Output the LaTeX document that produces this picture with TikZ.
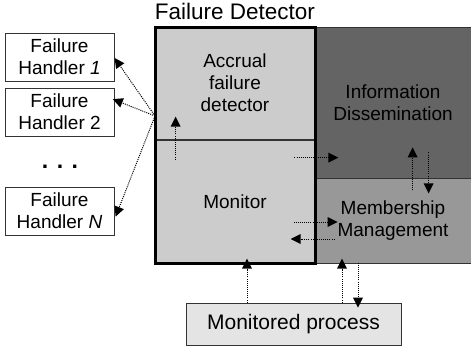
\documentclass[tikz,border=0pt]{standalone}
\usepackage{fontspec}
\setmainfont{Liberation Sans}
\usetikzlibrary{arrows.meta,decorations.markings}
\definecolor{lightreg}{HTML}{CCCCCC}
\definecolor{darkreg}{HTML}{646464}
\definecolor{midreg}{HTML}{989898}
\definecolor{procfill}{HTML}{E4E4E4}
\begin{document}
\begin{tikzpicture}[x=1pt,y=-1pt,
  txt/.style={font=\fontsize{19}{22}\selectfont, align=center, inner sep=0pt},
  handler/.style={txt, draw=black!80, fill=white, line width=0.8pt, minimum width=109pt, minimum height=48pt},
  region/.style={txt, draw=black!80, line width=0.8pt},
  arr/.style={dash pattern=on 1pt off 1.1pt, line width=1pt, shorten >=5pt,
    postaction={draw=none, decorate, decoration={markings,
      mark=at position 1 with {\fill[black] (5pt,0) -- (-5pt,5pt) -- (-5pt,-5pt) -- cycle;}}}}
]
\useasboundingbox (0,0) rectangle (471,353);

% regions
\node[region, fill=darkreg, minimum width=156pt, minimum height=151pt] (info) at (393,102.5) {Information\\Dissemination};
\node[region, fill=midreg, minimum width=156pt, minimum height=85pt] (memb) at (393,220.5) {Membership\\Management};
\node[region, fill=lightreg, minimum width=160pt, minimum height=112pt] (accrual) at (235,83) {Accrual\\failure\\detector};
\node[region, fill=lightreg, minimum width=160pt, minimum height=123pt] (monitor) at (235,201.5) {Monitor};
\node[draw=black, line width=3pt, minimum width=160pt, minimum height=235pt, inner sep=0pt] (fd) at (235,145.5) {};
\node[font=\fontsize{22.5}{26}\selectfont, anchor=base, inner sep=0pt] (title) at (235,20) {Failure Detector};

% monitored process
\node[region, font=\fontsize{21}{24}\selectfont, fill=procfill, minimum width=215pt, minimum height=42pt] (mp) at (293.5,324) {Monitored process};

% failure handlers
\node[handler] (h1) at (59.5,57) {Failure\\Handler \textit{1}};
\node[handler] (h2) at (59.5,112) {Failure\\Handler 2};
\node[handler] (hN) at (59.5,211) {Failure\\Handler \textit{N}};
\node[font=\fontsize{23}{26}\selectfont\bfseries, anchor=base, inner sep=0pt] (dots) at (60,168) {. . .};

% connectors to handlers
\coordinate (src) at (155,116);
\draw[arr] (src) -- ([shift={(3,5)}]h1.east);
\draw[arr] (src) -- ([shift={(3,-11)}]h2.east);
\draw[arr] (src) -- ([shift={(3,1)}]hN.east);

% internal connectors
\draw[arr] ([shift={(21,20)}]monitor.north west) -- ([shift={(21,-18)}]monitor.north west);
\draw[arr] ([shift={(-21,18)}]monitor.north east) -- ([shift={(18,18)}]monitor.north east);
\draw[arr] ([shift={(98,12)}]info.south west) -- ([shift={(98,-26)}]info.south west);
\draw[arr] ([shift={(114,-26)}]info.south west) -- ([shift={(114,10)}]info.south west);
\draw[arr] ([shift={(-21,1.5)}]memb.west) -- ([shift={(18,1.5)}]memb.west);
\draw[arr] ([shift={(20,18.5)}]memb.west) -- ([shift={(-19,18.5)}]memb.west);

% monitored process connectors
\draw[arr] ([shift={(-46.5,0)}]mp.north) -- ([shift={(-46.5,-39)}]mp.north);
\draw[arr] ([shift={(48.5,0)}]mp.north) -- ([shift={(48.5,-39)}]mp.north);
\draw[arr] ([shift={(64.5,-40)}]mp.north) -- ([shift={(64.5,0)}]mp.north);
\end{tikzpicture}
\end{document}
